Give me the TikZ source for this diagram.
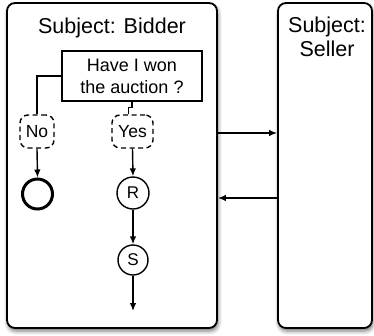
\documentclass[tikz,border=0pt]{standalone}
\usepackage{fontspec}
\setmainfont{Liberation Sans}
\usetikzlibrary{arrows.meta,shadows.blur}
\begin{document}
\begin{tikzpicture}[x=1pt,y=-1pt,
  subjectbox/.style={draw, line width=1.8pt, rounded corners=8pt, fill=white,
    inner sep=0pt, blur shadow={shadow xshift=1pt, shadow yshift=-3pt, shadow blur radius=4pt, shadow opacity=55}},
  titletext/.style={inner sep=0pt, font=\fontsize{21.5}{24}\selectfont, align=center},
  decision/.style={draw, line width=2.8pt, inner sep=0pt, minimum width=140pt, minimum height=50pt,
    align=center, font=\fontsize{18}{22}\selectfont},
  guard/.style={draw, dash pattern=on 5pt off 3.5pt, line width=1.4pt, rounded corners=8pt,
    inner sep=0pt, minimum height=33pt, font=\fontsize{17.5}{20}\selectfont},
  state/.style={draw, circle, line width=1.4pt, inner sep=0pt, font=\fontsize{17}{20}\selectfont},
  endstate/.style={draw, circle, line width=3pt, inner sep=0pt, minimum size=30pt},
  conn/.style={line width=1.4pt},
  arr/.style={line width=1.4pt, -{Latex[length=8pt,width=6.5pt]}}
]
\useasboundingbox (0,0) rectangle (374,335);
\node[subjectbox, minimum width=210pt, minimum height=325pt] (bidder) at (112,165.5) {};
\node[subjectbox, minimum width=94pt, minimum height=325pt] (seller) at (325,165.5) {};
\node[titletext, anchor=base] (btitle) at (112,33) {Subject: Bidder};
\node[titletext] (stitle) at (327,37.3) {Subject:\\Seller};
\node[decision] (dec) at (132,76) {Have I won\\the auction ?};
\node[guard, minimum width=34pt] (no) at (37,131.5) {No};
\node[guard, minimum width=41pt] (yes) at (132.5,131.5) {Yes};
\node[endstate] (end) at (37.5,194) {};
\node[state, minimum size=32pt] (r) at (133,193) {R};
\node[state, minimum size=30pt] (s) at (133,260) {S};
\coordinate (sout) at (133,311);
\draw[conn] (dec.west) -| (no.north);
\draw[conn] (dec.south) -- ++(0,5) -| ([xshift=-4pt]yes.north);
\draw[arr] (no.south) -- (end.north);
\draw[arr] (yes.south) -- (r.north);
\draw[arr] (r.south) -- (s.north);
\draw[arr] (s.south) -- (sout);
\draw[arr] (bidder.east |- 0,133) -- (seller.west |- 0,133);
\draw[arr] (seller.west |- 0,198) -- (bidder.east |- 0,198);
\end{tikzpicture}
\end{document}
